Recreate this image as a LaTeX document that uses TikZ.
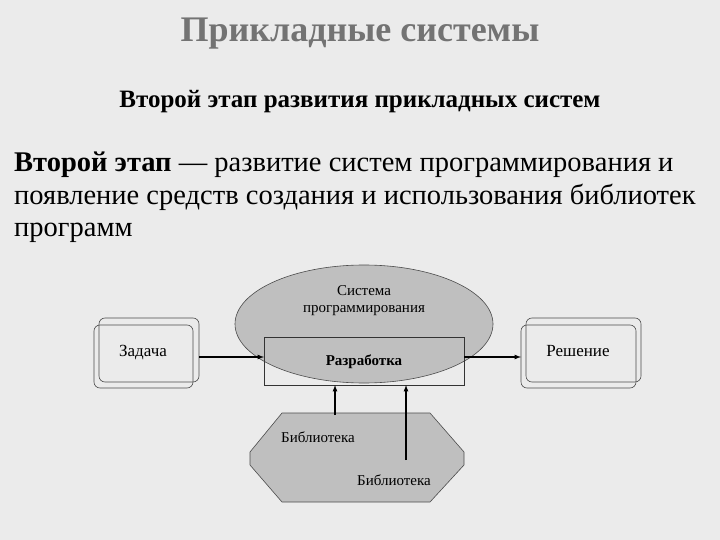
\documentclass[tikz,border=0pt]{standalone}
\usepackage{fontspec}
\setmainfont{Liberation Serif}
\begin{document}
\begin{tikzpicture}[x=1pt,y=-1pt,
  lbl/.style={inner sep=0pt,font=\fontsize{15}{17}\selectfont},
  box/.style={draw=black!70,line width=0.6pt,rounded corners=6pt},
  arr/.style={-latex,line width=1.2pt}]
\fill[black!8] (0,0) rectangle (720,540);
\useasboundingbox (0,0) rectangle (720,540);
\node[text=black!55,font=\bfseries\fontsize{36}{40}\selectfont] (t) at (360,34) {Прикладные системы};
\node[font=\bfseries\fontsize{25}{28}\selectfont] (st) at (360,102) {Второй этап развития прикладных систем};
\node[anchor=north west,align=left,inner sep=0pt,font=\fontsize{28.5}{32.5}\selectfont] (p) at (14,152)
 {\textbf{Второй этап} — развитие систем программирования и\\появление средств создания и использования библиотек\\программ};
% ellipse
\fill[black!25] (364,324) ellipse [x radius=129, y radius=59];
\draw[black!70,line width=0.6pt] (364,324) ellipse [x radius=129, y radius=59];
\node[lbl] (s1) at (364,291) {Система};
\node[lbl] (s2) at (364,311) {программирования};
\draw[black!80,line width=0.8pt] (264,337) rectangle (464,385);
\node[lbl,font=\bfseries\fontsize{15}{17}\selectfont] (dev) at (364,362) {Разработка};
% octagon
\filldraw[fill=black!25,draw=black!70,line width=0.6pt] (282,413)--(430,413)--(464,452)--(464,465)--(430,502)--(282,502)--(250,465)--(250,452)--cycle;
\node[lbl] (l1) at (318,437) {Библиотека};
\node[lbl] (l2) at (394,480) {Библиотека};
% boxes
\draw[box] (94,325) rectangle (193,388);
\draw[box] (99,318) rectangle (199,382);
\node[lbl,font=\fontsize{17}{19}\selectfont] (z) at (143,353) {Задача};
\draw[box] (521,325) rectangle (636,388);
\draw[box] (526,318) rectangle (641,382);
\node[lbl,font=\fontsize{17}{19}\selectfont] (r) at (578,351) {Решение};
\coordinate (zr) at (199,357); \coordinate (dl) at (264,357);
\coordinate (dr) at (464,357); \coordinate (rl) at (521,357);
\draw[arr] (zr) -- (dl);
\draw[arr] (dr) -- (rl);
\coordinate (a1) at (335,415); \coordinate (b1) at (335,385);
\coordinate (a2) at (406,460); \coordinate (b2) at (406,385);
\draw[arr] (a1) -- (b1);
\draw[arr] (a2) -- (b2);
\end{tikzpicture}
\end{document}
